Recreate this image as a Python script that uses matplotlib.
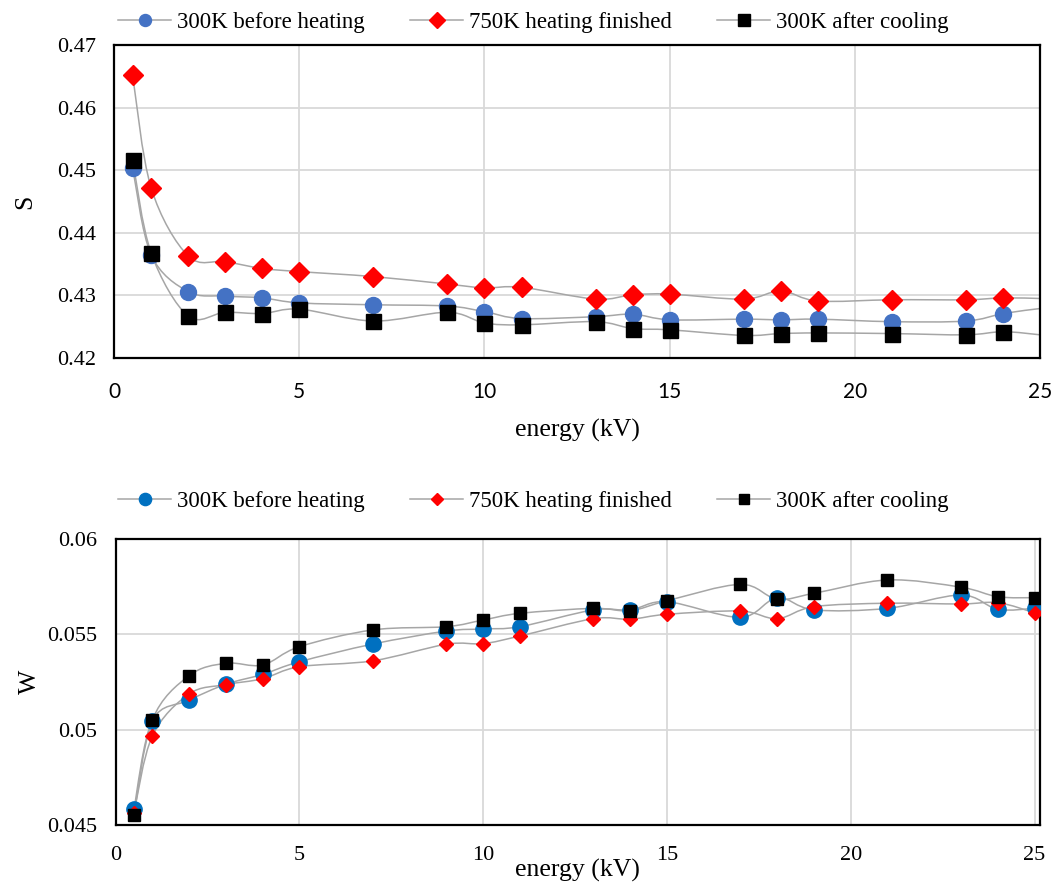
import matplotlib
matplotlib.use("Agg")
import matplotlib.pyplot as plt
from matplotlib.path import Path
from matplotlib.patches import PathPatch
from matplotlib.lines import Line2D

plt.rcParams['font.family'] = ['Liberation Serif', 'DejaVu Serif']

# Data
energy = [0.5, 1, 2, 3, 4, 5, 7, 9, 10, 11, 13, 14, 15, 17, 18, 19, 21, 23, 24, 25]

s_before = [0.4504, 0.4365, 0.4306, 0.4299, 0.4296, 0.4288, 0.4285, 0.4283, 0.4274, 0.4263,
            0.4266, 0.4270, 0.4261, 0.4262, 0.4261, 0.4262, 0.4258, 0.4259, 0.4271, 0.4279]
s_heated = [0.4652, 0.4472, 0.4363, 0.4354, 0.4343, 0.4338, 0.4330, 0.4318, 0.4312, 0.4313,
            0.4294, 0.4301, 0.4302, 0.4294, 0.4307, 0.4291, 0.4293, 0.4293, 0.4296, 0.4295]
s_after = [0.4516, 0.4368, 0.4267, 0.4273, 0.4271, 0.4278, 0.4259, 0.4273, 0.4256, 0.4253,
           0.4258, 0.4247, 0.4245, 0.4236, 0.4239, 0.4240, 0.4239, 0.4237, 0.4242, 0.4237]

w_before = [0.04582, 0.05047, 0.05154, 0.05238, 0.05290, 0.05356, 0.05449, 0.05517, 0.05528, 0.05540,
            0.05628, 0.05628, 0.05671, 0.05589, 0.05692, 0.05628, 0.05636, 0.05706, 0.05631, 0.05636]
w_heated = [0.04564, 0.04966, 0.05187, 0.05236, 0.05267, 0.05330, 0.05361, 0.05448, 0.05451, 0.05491,
            0.05582, 0.05579, 0.05605, 0.05622, 0.05582, 0.05645, 0.05663, 0.05659, 0.05666, 0.05613]
w_after = [0.04552, 0.05050, 0.05283, 0.05348, 0.05339, 0.05435, 0.05523, 0.05540, 0.05575, 0.05610,
           0.05636, 0.05624, 0.05676, 0.05762, 0.05684, 0.05715, 0.05785, 0.05747, 0.05697, 0.05692]

labels = ["300K before heating", "750K heating finished", "300K after cooling"]
LINE = '#A6A6A6'
GRID = '#D9D9D9'


def smooth_path(x, y):
    # Excel-style smoothed line: cubic bezier through the points
    n = len(x)
    verts = [(x[0], y[0])]
    codes = [Path.MOVETO]
    for i in range(n - 1):
        xa, ya = (x[i - 1], y[i - 1]) if i > 0 else (x[i], y[i])
        xb, yb = (x[i + 2], y[i + 2]) if i + 2 < n else (x[i + 1], y[i + 1])
        c1 = (x[i] + (x[i + 1] - xa) / 6, y[i] + (y[i + 1] - ya) / 6)
        c2 = (x[i + 1] - (xb - x[i]) / 6, y[i + 1] - (yb - y[i]) / 6)
        verts += [c1, c2, (x[i + 1], y[i + 1])]
        codes += [Path.CURVE4] * 3
    return Path(verts, codes)


def draw(ax, series, styles, every):
    for ys, st in zip(series, styles):
        ax.add_patch(PathPatch(smooth_path(energy, ys), facecolor='none',
                               edgecolor=LINE, lw=1.1, zorder=2))
        ax.plot(energy, ys, linestyle='none', markevery=every, zorder=3, **st)


def style_axes(ax):
    ax.grid(True, color=GRID, lw=1.3)
    ax.set_axisbelow(True)
    for sp in ax.spines.values():
        sp.set_linewidth(1.6)
        sp.set_color('black')
    ax.tick_params(length=0)


fig = plt.figure(figsize=(10.56, 8.85), dpi=100)

# ---- top: S parameter ----
ax1 = fig.add_axes([0.108, 0.5955, 0.877, 0.3537])
top_styles = [
    dict(marker='o', ms=11.5, mfc='#4472C4', mec='#4472C4'),
    dict(marker='D', ms=10.5, mfc='#FF0000', mec='#FF0000'),
    dict(marker='s', ms=10.8, mfc='black', mec='black'),
]
draw(ax1, [s_before, s_heated, s_after], top_styles, slice(0, -1))
style_axes(ax1)
ax1.set_xlim(0, 25)
ax1.set_ylim(0.42, 0.47)
ax1.set_xticks([0, 5, 10, 15, 20, 25])
ax1.set_yticks([0.42, 0.43, 0.44, 0.45, 0.46, 0.47])
ax1.set_yticklabels(['0.42', '0.43', '0.44', '0.45', '0.46', '0.47'], fontsize=16)
ax1.set_xticklabels(['0', '5', '10', '15', '20', '25'], fontsize=15, family=['Lato', 'DejaVu Sans'])
ax1.tick_params(axis='x', pad=17)
ax1.tick_params(axis='y', pad=13)
ax1.set_xlabel('energy (kV)', fontsize=18.5, va='center')
ax1.xaxis.set_label_coords(0.5, -0.23)
ax1.set_ylabel('S', fontsize=18.5, va='center')
ax1.yaxis.set_label_coords(-0.096, 0.5)
h1 = [Line2D([], [], color=LINE, lw=1.1, marker=st['marker'], ms=st['ms'] * 0.75,
             mfc=st['mfc'], mec=st['mec']) for st in top_styles]
fig.legend(h1, labels, loc='center', bbox_to_anchor=(0.505, 0.975), ncol=3, frameon=False,
           fontsize=16.5, handlelength=2.3, columnspacing=2.0, handletextpad=0.25)

# ---- bottom: W parameter ----
ax2 = fig.add_axes([0.1094, 0.0678, 0.8755, 0.3232])
bot_styles = [
    dict(marker='o', ms=11, mfc='#0070C0', mec='#0070C0'),
    dict(marker='D', ms=7.5, mfc='#FF0000', mec='#FF0000'),
    dict(marker='s', ms=9, mfc='black', mec='black'),
]
draw(ax2, [w_before, w_heated, w_after], bot_styles, None)
style_axes(ax2)
ax2.set_xlim(0, 25.15)
ax2.set_ylim(0.045, 0.06)
ax2.set_xticks([0, 5, 10, 15, 20, 25])
ax2.set_yticks([0.045, 0.05, 0.055, 0.06])
ax2.set_yticklabels(['0.045', '0.05', '0.055', '0.06'], fontsize=16)
ax2.set_xticklabels(['0', '5', '10', '15', '20', '25'], fontsize=16)
ax2.tick_params(axis='x', pad=15)
ax2.tick_params(axis='y', pad=13)
ax2.set_xlabel('energy (kV)', fontsize=18.5, va='center')
ax2.xaxis.set_label_coords(0.5, -0.16)
ax2.set_ylabel('W', fontsize=18.5, va='center')
ax2.yaxis.set_label_coords(-0.0925, 0.5)
h2 = [Line2D([], [], color=LINE, lw=1.1, marker=st['marker'], ms=st['ms'] * 0.8,
             mfc=st['mfc'], mec=st['mec']) for st in bot_styles]
fig.legend(h2, labels, loc='center', bbox_to_anchor=(0.505, 0.433), ncol=3, frameon=False,
           fontsize=16.5, handlelength=2.3, columnspacing=2.0, handletextpad=0.25)

fig.savefig('out.png', dpi=100)
